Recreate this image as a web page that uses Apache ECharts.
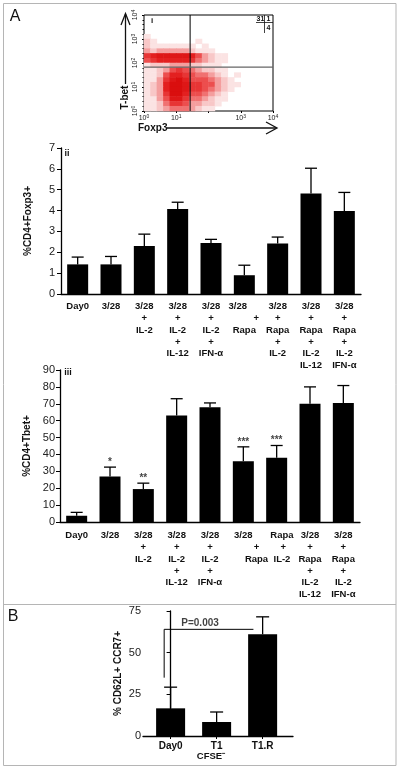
<!DOCTYPE html>
<html><head><meta charset="utf-8">
<script src="https://cdn.jsdelivr.net/npm/echarts@6/dist/echarts.min.js"></script>
<style>html,body{margin:0;padding:0;background:#fff}#c{width:400px;height:770px}</style>
</head><body><div id="c"></div>
<script>
// ---------- Panel A-i : flow cytometry (density) ----------
const flowExponents = [0, 1, 2, 3, 4];
const flowXTickShown = [true, true, false, true, true];
// rows from top (10^3.8-10^4) to bottom (10^0-10^0.2); 20 columns of 0.2 decades each, density 0-9
const flowDensityRows = [
  "00000000000000000000",
  "00000000000000000000",
  "00000000000000000000",
  "00000000000000000000",
  "10000000000000000000",
  "21000000100000000000",
  "21111111010000000000",
  "32333332111000000000",
  "67888887532110000000",
  "56777776432110000000",
  "12223332211100000000",
  "11235654322110000000",
  "11257765443210100000",
  "11368975554321000000",
  "12379986655321100000",
  "12379986654321000000",
  "12369975543210000000",
  "11358864432110000000",
  "11246653322100000000",
  "11234443211000000000"
];
const gateFoxp3 = 1.43;
const gateTbet = 1.83;
const quadrantPct = ['31', '1', '4'];

// ---------- Panel A-ii ----------
const catII = ['Day0', '3/28', '3/28\n+\nIL-2', '3/28\n+\nIL-2\n+\nIL-12', '3/28\n+\nIL-2\n+\nIFN-α',
  '3/28     \n         +\nRapa', '3/28\n+\nRapa\n+\nIL-2', '3/28\n+\nRapa\n+\nIL-2\nIL-12', '3/28\n+\nRapa\n+\nIL-2\nIFN-α'];
const foxp3Mean = [1.42, 1.42, 2.3, 4.07, 2.45, 0.9, 2.42, 4.82, 3.98];
const foxp3Err = [0.35, 0.38, 0.57, 0.33, 0.17, 0.48, 0.31, 1.21, 0.89];

// ---------- Panel A-iii ----------
const catIII = ['Day0', '3/28', '3/28\n+\nIL-2', '3/28\n+\nIL-2\n+\nIL-12', '3/28\n+\nIL-2\n+\nIFN-α',
  '3/28\n          +\n          Rapa', '    Rapa\n     +\n    IL-2', '3/28\n+\nRapa\n+\nIL-2\nIL-12', '3/28\n+\nRapa\n+\nIL-2\nIFN-α'];
const tbetMean = [3.7, 27, 19.5, 63, 68, 36, 38, 70, 70.5];
const tbetErr = [2, 5.5, 3.5, 10, 2.5, 8.5, 7.3, 10, 10.3];
const tbetSig = ['', '*', '**', '', '', '***', '***', '', ''];

// ---------- Panel B ----------
const catB = ['Day0', 'T1', 'T1.R'];
const ccr7Mean = [16.6, 8.4, 61];
const ccr7Err = [12.7, 6, 10.5];
const pBracket = [[-0.14, 35], [-0.14, 64], [1.8, 64]];
const pLabelPos = [0.64, 64];
const pLabel = 'P=0.003';

// ---------- build ----------
const FONT = 'Liberation Sans';
const heatData = [];
flowDensityRows.forEach((row, r) => {
  for (let c = 0; c < row.length; c++) {
    const d = +row[c];
    if (d > 0) heatData.push([c, flowDensityRows.length - 1 - r, d]);
  }
});
const flowCats = Array.from({length: 20}, (_, i) => i);

function errRender(capHalf) {
  return function (params, api) {
    const x = api.value(0), v = api.value(1), e = api.value(2);
    const p0 = api.coord([x, v]);
    const p1 = api.coord([x, v + e]);
    return {
      type: 'group', children: [
        {type: 'line', shape: {x1: p0[0], y1: p0[1], x2: p1[0], y2: p1[1]}, style: {stroke: '#000', lineWidth: 1.3}},
        {type: 'line', shape: {x1: p1[0] - capHalf, y1: p1[1], x2: p1[0] + capHalf, y2: p1[1]}, style: {stroke: '#000', lineWidth: 1.3}}
      ]
    };
  };
}

const supRich = {b: {fontSize: 7, fontFamily: FONT, color: '#222'}, s: {fontSize: 5, fontFamily: FONT, color: '#222', verticalAlign: 'top', padding: [0, 0, 4, 0]}};
function supFmt(v) { return '{b|10}{s|' + v + '}'; }

const blackAxis = {lineStyle: {color: '#000', width: 1.3}};
const valLabel = {color: '#222', fontSize: 11, fontFamily: FONT};
const catLabel = {color: '#111', fontSize: 9.5, fontFamily: FONT, fontWeight: 'bold', lineHeight: 11.7, interval: 0};

const chart = echarts.init(document.getElementById('c'), null, {renderer: 'canvas'});
chart.setOption({
  animation: false,
  backgroundColor: '#fff',
  grid: [
    {left: 144, top: 15, width: 129, height: 96, show: true, borderColor: '#000', borderWidth: 1, backgroundColor: 'transparent'},
    {left: 61, top: 148, width: 300, height: 146},
    {left: 60, top: 370, width: 300, height: 152},
    {left: 143, top: 611, width: 150, height: 125}
  ],
  visualMap: {show: false, seriesIndex: 0, min: 0, max: 9, dimension: 2,
    inRange: {color: ['#ffffff', '#f7c0c0', '#ee5a5a', '#e42222', '#da0e0e']}},
  xAxis: [
    {type: 'category', gridIndex: 0, data: flowCats, show: false},
    {type: 'value', gridIndex: 0, min: 0, max: 4, interval: 1, position: 'bottom',
      axisLine: {show: false}, axisTick: {show: true, length: 2, lineStyle: {color: '#000'}},
      splitLine: {show: false},
      axisLabel: {margin: 3, formatter: v => flowXTickShown[flowExponents.indexOf(v)] ? supFmt(v) : '', rich: supRich}},
    {type: 'category', gridIndex: 1, data: catII, axisLine: blackAxis,
      axisTick: {alignWithLabel: true, length: 3, lineStyle: {color: '#000'}}, axisLabel: Object.assign({margin: 7}, catLabel)},
    {type: 'category', gridIndex: 2, data: catIII, axisLine: blackAxis,
      axisTick: {alignWithLabel: true, length: 3, lineStyle: {color: '#000'}}, axisLabel: Object.assign({margin: 8}, catLabel)},
    {type: 'value', gridIndex: 3, min: -0.6, max: 2.66, axisLine: blackAxis, splitLine: {show: false},
      axisTick: {show: true, length: 3, customValues: [0, 1, 2], lineStyle: {color: '#000'}},
      axisLabel: {customValues: [0, 1, 2], formatter: v => catB[Math.round(v)], margin: 5,
        color: '#111', fontSize: 10, fontWeight: 'bold', fontFamily: FONT}}
  ],
  yAxis: [
    {type: 'category', gridIndex: 0, data: flowCats, show: false},
    {type: 'value', gridIndex: 0, min: 0, max: 4, interval: 1, position: 'left',
      axisLine: {show: false}, splitLine: {show: false},
      axisTick: {show: true, length: 2, lineStyle: {color: '#000'}},
      minorTick: {show: true, splitNumber: 5, length: 1.5, lineStyle: {color: '#000'}},
      axisLabel: {rotate: 90, margin: 4, formatter: v => supFmt(v), rich: supRich}},
    {type: 'value', gridIndex: 1, min: 0, max: 7, interval: 1, axisLine: Object.assign({show: true}, blackAxis),
      axisTick: {show: true, length: 4, lineStyle: {color: '#000'}}, splitLine: {show: false},
      axisLabel: Object.assign({margin: 6}, valLabel),
      name: '%CD4+Foxp3+', nameLocation: 'middle', nameGap: 28,
      nameTextStyle: {fontSize: 10, fontWeight: 'bold', fontFamily: FONT, color: '#111'}},
    {type: 'value', gridIndex: 2, min: 0, max: 90, interval: 10, axisLine: Object.assign({show: true}, blackAxis),
      axisTick: {show: true, length: 4, lineStyle: {color: '#000'}}, splitLine: {show: false},
      axisLabel: Object.assign({margin: 5}, valLabel),
      name: '%CD4+Tbet+', nameLocation: 'middle', nameGap: 27,
      nameTextStyle: {fontSize: 10, fontWeight: 'bold', fontFamily: FONT, color: '#111'}},
    {type: 'value', gridIndex: 3, min: 0, max: 75, interval: 25, axisLine: Object.assign({show: true}, blackAxis),
      axisTick: {show: true, length: 4, lineStyle: {color: '#000'}}, splitLine: {show: false},
      axisLabel: Object.assign({margin: 2}, valLabel),
      name: '% CD62L+ CCR7+', nameLocation: 'middle', nameGap: 20,
      nameTextStyle: {fontSize: 10, fontWeight: 'bold', fontFamily: FONT, color: '#111'}}
  ],
  series: [
    {type: 'heatmap', xAxisIndex: 0, yAxisIndex: 0, data: heatData, emphasis: {disabled: true}, itemStyle: {borderWidth: 0}},
    {type: 'line', xAxisIndex: 1, yAxisIndex: 1, data: [[gateFoxp3, 0], [gateFoxp3, 4]], symbol: 'none',
      lineStyle: {color: '#000', width: 1}, silent: true},
    {type: 'line', xAxisIndex: 1, yAxisIndex: 1, data: [[0, gateTbet], [4, gateTbet]], symbol: 'none',
      lineStyle: {color: '#666', width: 1.3}, silent: true},
    // ii
    {type: 'bar', xAxisIndex: 2, yAxisIndex: 2, data: foxp3Mean, barWidth: 21, itemStyle: {color: '#000'}},
    {type: 'custom', xAxisIndex: 2, yAxisIndex: 2, renderItem: errRender(6), z: 3,
      data: foxp3Mean.map((v, i) => [i, v, foxp3Err[i]])},
    // iii
    {type: 'bar', xAxisIndex: 3, yAxisIndex: 3, data: tbetMean, barWidth: 21, itemStyle: {color: '#000'}},
    {type: 'custom', xAxisIndex: 3, yAxisIndex: 3, renderItem: errRender(6), z: 3,
      data: tbetMean.map((v, i) => [i, v, tbetErr[i]])},
    {type: 'scatter', xAxisIndex: 3, yAxisIndex: 3, symbolSize: 0,
      data: tbetMean.map((v, i) => [i, v + tbetErr[i]]),
      label: {show: true, position: 'top', distance: 0, formatter: p => tbetSig[p.dataIndex],
        fontSize: 10, fontWeight: 'bold', fontFamily: FONT, color: '#111'}},
    // B
    {type: 'bar', xAxisIndex: 4, yAxisIndex: 4, data: ccr7Mean.map((v, i) => [i, v]), barWidth: 29, itemStyle: {color: '#000'}},
    {type: 'custom', xAxisIndex: 4, yAxisIndex: 4, renderItem: errRender(6.5), z: 3,
      data: ccr7Mean.map((v, i) => [i, v, ccr7Err[i]])},
    {type: 'line', xAxisIndex: 4, yAxisIndex: 4, data: pBracket, symbol: 'none',
      lineStyle: {color: '#000', width: 1}, silent: true},
    {type: 'scatter', xAxisIndex: 4, yAxisIndex: 4, symbolSize: 0, data: [pLabelPos],
      label: {show: true, position: 'top', distance: 1, formatter: pLabel,
        fontSize: 10, fontWeight: 'bold', fontFamily: FONT, color: '#111'}}
  ],
  graphic: [
    {type: 'rect', shape: {x: 3.5, y: 3.5, width: 392.5, height: 762}, style: {fill: 'none', stroke: '#b5b5b5', lineWidth: 1}, z: 100},
    {type: 'line', shape: {x1: 3.5, y1: 604.5, x2: 396, y2: 604.5}, style: {stroke: '#b5b5b5', lineWidth: 1}, z: 100},
    {type: 'text', x: 15, y: 17, style: {text: 'A', font: '16px ' + FONT, fill: '#111', align: 'center', verticalAlign: 'middle'}},
    {type: 'text', x: 13, y: 617, style: {text: 'B', font: '16px ' + FONT, fill: '#111', align: 'center', verticalAlign: 'middle'}},
    {type: 'text', x: 152, y: 21, style: {text: 'i', font: 'bold 8px ' + FONT, fill: '#111', align: 'center', verticalAlign: 'middle'}},
    {type: 'text', x: 67, y: 154, style: {text: 'ii', font: 'bold 9px ' + FONT, fill: '#111', align: 'center', verticalAlign: 'middle'}},
    {type: 'text', x: 68, y: 373, style: {text: 'iii', font: 'bold 9px ' + FONT, fill: '#111', align: 'center', verticalAlign: 'middle'}},
    // flow axis names with arrows
    {type: 'text', x: 125, y: 97.5, rotation: Math.PI / 2, style: {text: 'T-bet', font: 'bold 10px ' + FONT, fill: '#111', align: 'center', verticalAlign: 'middle'}},
    {type: 'line', shape: {x1: 125.5, y1: 84, x2: 125.5, y2: 14}, style: {stroke: '#111', lineWidth: 1.3}},
    {type: 'polyline', shape: {points: [[121, 25], [125.5, 13.5], [130, 25]]}, style: {stroke: '#111', lineWidth: 1.3, fill: 'none'}},
    {type: 'text', x: 138, y: 128, style: {text: 'Foxp3', font: 'bold 10px ' + FONT, fill: '#111', align: 'left', verticalAlign: 'middle'}},
    {type: 'line', shape: {x1: 167, y1: 128, x2: 276, y2: 128}, style: {stroke: '#111', lineWidth: 1.3}},
    {type: 'polyline', shape: {points: [[266, 122], [277, 128], [266, 134]]}, style: {stroke: '#111', lineWidth: 1.3, fill: 'none'}},
    // quadrant percentages
    {type: 'text', x: 260.5, y: 19.5, style: {text: quadrantPct[0], font: 'bold 7px ' + FONT, fill: '#111', align: 'center', verticalAlign: 'middle'}},
    {type: 'text', x: 268.5, y: 19.5, style: {text: quadrantPct[1], font: 'bold 7px ' + FONT, fill: '#111', align: 'center', verticalAlign: 'middle'}},
    {type: 'text', x: 268.5, y: 28.5, style: {text: quadrantPct[2], font: 'bold 7px ' + FONT, fill: '#111', align: 'center', verticalAlign: 'middle'}},
    {type: 'line', shape: {x1: 256, y1: 22.5, x2: 273, y2: 22.5}, style: {stroke: '#111', lineWidth: 0.8}},
    {type: 'line', shape: {x1: 264.5, y1: 15, x2: 264.5, y2: 33}, style: {stroke: '#111', lineWidth: 0.8}},
    // CFSE label
    {type: 'text', x: 211, y: 756, style: {text: 'CFSE⁻', font: 'bold 9.5px ' + FONT, fill: '#111', align: 'center', verticalAlign: 'middle'}}
  ]
});
</script>
</body></html>
